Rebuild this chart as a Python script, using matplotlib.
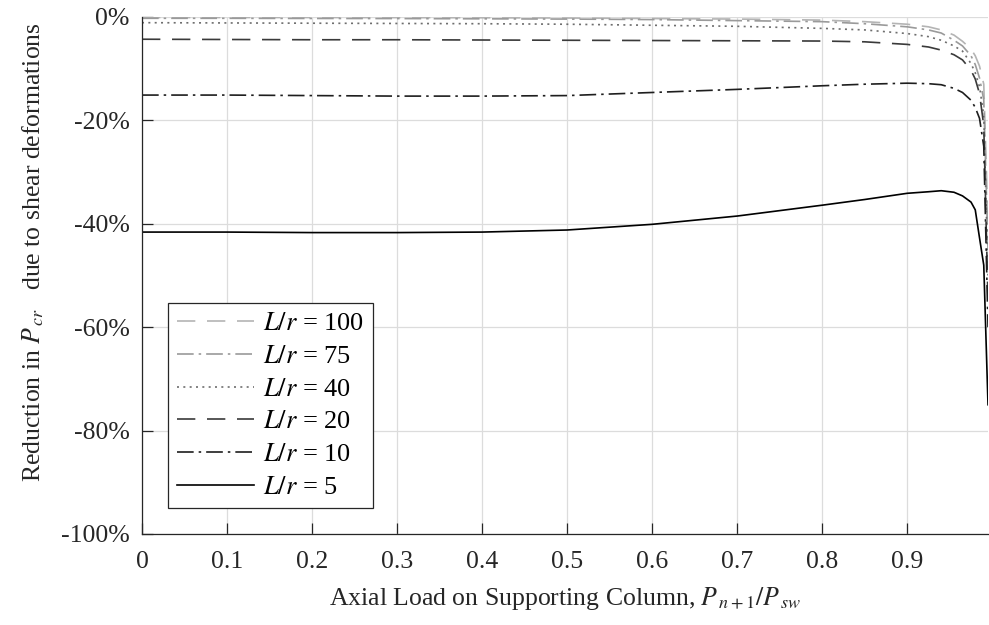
import matplotlib.pyplot as plt
import matplotlib.ticker as mticker

plt.rcParams['font.family'] = ['Liberation Serif', 'DejaVu Serif']
plt.rcParams['mathtext.fontset'] = 'stix'

# x = P_{n+1}/P_sw
load_ratio = [0, 0.1, 0.2, 0.3, 0.4, 0.5, 0.6, 0.7, 0.8, 0.85, 0.9, 0.925, 0.94,
              0.955, 0.965, 0.975, 0.98, 0.985, 0.99, 0.995]

# reduction in P_cr (%) for each slenderness L/r
red_100 = [-0.1, -0.1, -0.1, -0.12, -0.15, -0.2, -0.3, -0.4, -0.6, -0.9, -1.4, -1.9,
           -2.5, -3.5, -4.7, -6.2, -7.5, -9.5, -13, -40]
red_75 = [-0.25, -0.25, -0.28, -0.3, -0.35, -0.4, -0.5, -0.7, -0.9, -1.3, -1.9, -2.5,
          -3.1, -4.5, -5.6, -7.5, -9.2, -11.8, -16, -45]
red_40 = [-1.1, -1.15, -1.2, -1.25, -1.3, -1.4, -1.6, -1.8, -2.2, -2.5, -3.2, -3.8,
          -4.5, -5.6, -6.6, -9.0, -10.8, -13.5, -19, -50]
red_20 = [-4.3, -4.35, -4.4, -4.4, -4.45, -4.5, -4.55, -4.6, -4.65, -4.8, -5.3, -5.8,
          -6.4, -7.3, -8.3, -10.3, -12, -14.8, -21, -55]
red_10 = [-15.1, -15.1, -15.2, -15.3, -15.3, -15.2, -14.6, -14.0, -13.3, -13.0, -12.8,
          -12.9, -13.1, -13.8, -14.6, -16.1, -17.5, -19.6, -25, -60]
red_5 = [-41.6, -41.6, -41.7, -41.7, -41.6, -41.2, -40.1, -38.5, -36.4, -35.3, -34.1,
         -33.8, -33.6, -33.9, -34.6, -35.8, -37.3, -42.7, -48, -75]

dashed = (0, (11, 7))
dashdot = (0, (10, 3, 1.5, 3))
dotted = (0, (1.2, 2.6))
series = [
    ('100', red_100, '#b4b4b4', dashed),
    ('75', red_75, '#9a9a9a', dashdot),
    ('40', red_40, '#6e6e6e', dotted),
    ('20', red_20, '#3a3a3a', dashed),
    ('10', red_10, '#1e1e1e', dashdot),
    ('5', red_5, '#000000', '-'),
]

fig = plt.figure(figsize=(9.89, 6.25), dpi=100)
ax = fig.add_axes([0.1436, 0.1456, 0.8554, 0.8272])

for name, vals, col, ls in series:
    ax.plot(load_ratio, vals, color=col, linestyle=ls, linewidth=1.2,
            label=f'$L/r$ = {name}')

ax.set_xlim(0, 0.995)
ax.set_ylim(-100, 0)
ax.set_xticks([0, 0.1, 0.2, 0.3, 0.4, 0.5, 0.6, 0.7, 0.8, 0.9])
ax.xaxis.set_major_formatter(mticker.FuncFormatter(lambda v, p: f'{v:g}'))
ax.set_yticks([0, -20, -40, -60, -80, -100])
ax.yaxis.set_major_formatter(mticker.FuncFormatter(lambda v, p: f'{v:.0f}%'))
ax.tick_params(direction='in', length=8, width=0.9, labelsize=18.5, colors='#262626')
ax.tick_params(axis='x', pad=12)
ax.tick_params(axis='y', pad=9)
ax.grid(True, color='#dcdcdc', linewidth=0.9)
ax.set_axisbelow(True)

for s in ['top', 'right']:
    ax.spines[s].set_visible(False)
for s in ['left', 'bottom']:
    ax.spines[s].set_color('#262626')
    ax.spines[s].set_linewidth(0.9)

ax.set_xlabel(r'Axial Load on Supporting Column, $P_{\,n+1}/P_{\,sw}$', fontsize=18.5,
              color='#262626', labelpad=9)
ax.set_ylabel(r'Reduction in $P_{\,cr}$   due to shear deformations', fontsize=18.5,
              color='#262626')
ax.yaxis.set_label_coords(-0.113, 0.545)

leg = ax.legend(loc='lower left', bbox_to_anchor=(0.031, 0.05), borderaxespad=0,
                fontsize=19, handlelength=2.9, handletextpad=0.33, labelspacing=0.35,
                fancybox=False, framealpha=1, edgecolor='#262626', borderpad=0.35)
leg.get_frame().set_linewidth(0.9)

fig.savefig('out.png', dpi=100)
